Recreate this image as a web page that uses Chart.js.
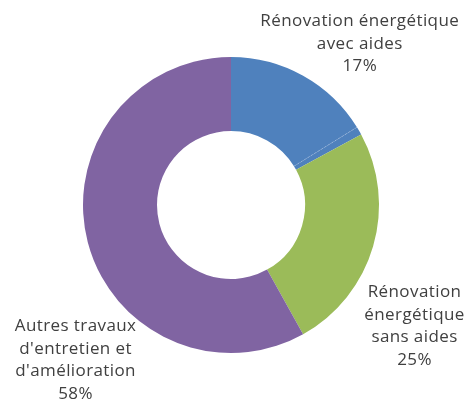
<!DOCTYPE html>
<html>
<head>
<meta charset="utf-8">
<script src="https://cdn.jsdelivr.net/npm/chart.js@4/dist/chart.umd.min.js"></script>
<style>
html,body{margin:0;padding:0;background:#fff;}
canvas{display:block;}
</style>
</head>
<body>
<canvas id="c" width="470" height="400"></canvas>
<script>
// Slices, clockwise from 12 o'clock (a thin extra slice of the same blue sits at the end of the first one)
const categories = ["Rénovation énergétique avec aides", "Rénovation énergétique avec aides (part)", "Rénovation énergétique sans aides", "Autres travaux d'entretien et d'amélioration"];
const values = [16.2, 0.9, 24.8, 58.1];
const colors = ["#4F81BD", "#4F81BD", "#9BBB59", "#8064A2"];
// Label lines and displayed percentages (index -> slice)
const labelLines = [
  ["Rénovation énergétique", "avec aides"],
  null,
  ["Rénovation", "énergétique", "sans aides"],
  ["Autres travaux", "d'entretien et", "d'amélioration"]
];
const labelPercents = ["17%", null, "25%", "58%"];

const labelPlugin = {
  id: 'labels',
  afterDatasetsDraw(chart) {
    const ctx = chart.ctx;
    const meta = chart.getDatasetMeta(0);
    const arcs = meta.data;
    const cx = arcs[0].x, cy = arcs[0].y, R = arcs[0].outerRadius, r = arcs[0].innerRadius;
    // faint divider between the two blue parts
    const a = arcs[1].startAngle;
    ctx.save();
    ctx.strokeStyle = 'rgba(190,205,230,0.5)';
    ctx.lineWidth = 0.8;
    ctx.setLineDash([2, 2]);
    ctx.beginPath();
    ctx.moveTo(cx + r * Math.cos(a), cy + r * Math.sin(a));
    ctx.lineTo(cx + R * Math.cos(a), cy + R * Math.sin(a));
    ctx.stroke();
    ctx.restore();

    // label placement factors relative to radius
    const place = [[0.87, -1.09], null, [1.24, 0.82], [-1.05, 1.05]];
    ctx.save();
    ctx.fillStyle = '#404040';
    ctx.font = '17px "Open Sans", sans-serif';
    try { ctx.letterSpacing = '0.4px'; } catch (e) {}
    ctx.textAlign = 'center';
    ctx.textBaseline = 'middle';
    const lh = 22.5;
    labelLines.forEach((lines, i) => {
      if (!lines) return;
      const all = lines.concat([labelPercents[i]]);
      const x = cx + place[i][0] * R;
      const y = cy + place[i][1] * R;
      const y0 = y - (all.length - 1) * lh / 2;
      all.forEach((t, k) => ctx.fillText(t, x, y0 + k * lh));
    });
    ctx.restore();
  }
};

new Chart(document.getElementById('c'), {
  type: 'doughnut',
  data: {
    labels: categories,
    datasets: [{
      data: values,
      backgroundColor: colors,
      borderWidth: 0
    }]
  },
  options: {
    responsive: false,
    animation: false,
    cutout: '50%',
    layout: { padding: { top: 57, bottom: 47, left: 83, right: 91 } },
    plugins: { legend: { display: false }, tooltip: { enabled: false } }
  },
  plugins: [labelPlugin]
});
</script>
</body>
</html>
